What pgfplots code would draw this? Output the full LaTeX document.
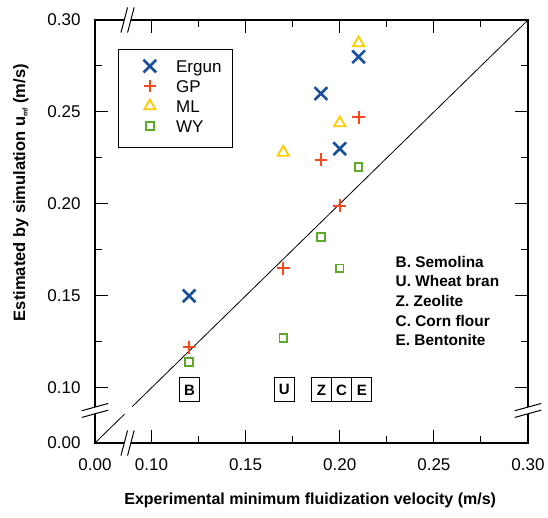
\documentclass[border=0pt]{standalone}
\usepackage{fontspec}
\setmainfont{Liberation Sans}
\usepackage{pgfplots}
\pgfplotsset{compat=1.18}
\definecolor{cErgun}{RGB}{26,79,156}
\definecolor{cGP}{RGB}{250,72,30}
\definecolor{cML}{RGB}{255,204,0}
\definecolor{cWY}{RGB}{94,168,42}
\newcommand{\xbreak}[1]{%
  \fill[white] ([shift={(-6.6pt,-12.6pt)}]axis cs:0.0873,#1) -- ([shift={(0pt,-12.6pt)}]axis cs:0.0873,#1) -- ([shift={(6.6pt,12.6pt)}]axis cs:0.0873,#1) -- ([shift={(0pt,12.6pt)}]axis cs:0.0873,#1) -- cycle;
  \draw[line width=1pt] ([shift={(-6.6pt,-12.6pt)}]axis cs:0.0873,#1) -- ([shift={(0pt,12.6pt)}]axis cs:0.0873,#1);
  \draw[line width=1pt] ([shift={(0pt,-12.6pt)}]axis cs:0.0873,#1) -- ([shift={(6.6pt,12.6pt)}]axis cs:0.0873,#1);}
\newcommand{\ybreak}[1]{%
  \fill[white] ([shift={(-13.3pt,-7pt)}]axis cs:#1,0.0877) -- ([shift={(13.3pt,0.3pt)}]axis cs:#1,0.0877) -- ([shift={(13.3pt,7pt)}]axis cs:#1,0.0877) -- ([shift={(-13.3pt,-0.3pt)}]axis cs:#1,0.0877) -- cycle;
  \draw[line width=1pt] ([shift={(-13.3pt,-7pt)}]axis cs:#1,0.0877) -- ([shift={(13.3pt,0.3pt)}]axis cs:#1,0.0877);
  \draw[line width=1pt] ([shift={(-13.3pt,-0.3pt)}]axis cs:#1,0.0877) -- ([shift={(13.3pt,7pt)}]axis cs:#1,0.0877);}
\tikzset{mat/.style={anchor=base west, inner sep=0pt, font=\fontsize{15.4}{15.4}\selectfont\bfseries},
  boxl/.style={draw=black, line width=0.8pt, minimum width=20pt, minimum height=24pt, inner sep=0pt, font=\fontsize{15}{15}\selectfont\bfseries}}
\begin{document}
\begin{tikzpicture}
\begin{axis}[name=ax, scale only axis, width=433pt, height=423pt,
 xmin=0.07, xmax=0.30, ymin=0.07, ymax=0.30, clip=false,
 xtick={0.07,0.10,0.15,0.20,0.25,0.30}, xticklabels={0.00,0.10,0.15,0.20,0.25,0.30},
 ytick={0.07,0.10,0.15,0.20,0.25,0.30}, yticklabels={0.00,0.10,0.15,0.20,0.25,0.30},
 minor xtick={0.125,0.175,0.225,0.275}, minor ytick={0.125,0.175,0.225,0.275},
 tick align=inside, major tick length=13pt, minor tick length=7pt,
 every tick/.style={black, line width=1pt},
 axis line style={line width=1.2pt},
 ticklabel style={font=\fontsize{17}{17}\selectfont},
 xticklabel style={yshift=-12pt}, yticklabel style={xshift=-11pt},
 xlabel={\bfseries Experimental minimum fluidization velocity (m/s)},
 ylabel={\bfseries Estimated by simulation u\raisebox{-2.5pt}{\fontsize{7}{7}\selectfont mf} (m/s)},
 xlabel style={font=\fontsize{16}{16}\selectfont, at={(axis description cs:0.497,-0.135)}, anchor=center},
 ylabel style={font=\fontsize{16.5}{16.5}\selectfont, at={(axis description cs:-0.171,0.592)}, anchor=center},
 legend cell align=left,
 legend image code/.code={\path (-22.7pt,0pt) (21.3pt,0pt); \draw[#1] plot coordinates {(2pt,2.5pt)};},
 legend style={at={(0.053,0.931)}, anchor=north west, draw=black, line width=0.8pt,
   font=\fontsize{17}{17}\selectfont, inner xsep=5.5pt, inner ysep=9pt, row sep=0pt, column sep=0pt,
   nodes={inner ysep=1.5pt, inner xsep=5.7pt, text height=12pt, text depth=5pt}},
]
\addplot[only marks, mark=x, mark size=9pt, cErgun, line width=2.6pt]
  coordinates {(0.12,0.150) (0.19,0.260) (0.20,0.230) (0.21,0.280)};
\addplot[only marks, mark=+, mark size=6.3pt, cGP, line width=2pt]
  coordinates {(0.12,0.122) (0.17,0.165) (0.19,0.224) (0.20,0.199) (0.21,0.247)};
\addplot[only marks, mark=triangle*, mark size=6.5pt, draw=cML, fill=white, line width=1.8pt, mark options={fill=white}]
  coordinates {(0.17,0.228) (0.20,0.244) (0.21,0.2875)};
\addplot[only marks, mark=square*, mark size=3.8pt, draw=cWY, fill=white, line width=1.9pt, mark options={fill=white}]
  coordinates {(0.12,0.114) (0.17,0.127) (0.19,0.182) (0.20,0.165) (0.21,0.220)};
\legend{Ergun,GP,ML,WY}
\addplot[black, line width=0.8pt, forget plot] coordinates {(0.07,0.07) (0.0857,0.0857)};
\addplot[black, line width=0.8pt, forget plot] coordinates {(0.0897,0.0897) (0.30,0.30)};
\xbreak{0.07}
\xbreak{0.30}
\ybreak{0.07}
\ybreak{0.30}
\node[mat] at (axis cs:0.2296,0.1654) {B. Semolina};
\node[mat] at (axis cs:0.2296,0.1550) {U. Wheat bran};
\node[mat] at (axis cs:0.2296,0.1441) {Z. Zeolite};
\node[mat] at (axis cs:0.2296,0.1333) {C. Corn flour};
\node[mat] at (axis cs:0.2296,0.1229) {E. Bentonite};
\node[boxl] at (axis cs:0.1202,0.0989) {B};
\node[boxl] at (axis cs:0.1706,0.0989) {U};
\node[boxl] at (axis cs:0.1903,0.0989) {Z};
\node[boxl] at (axis cs:0.2010,0.0989) {C};
\node[boxl] at (axis cs:0.2117,0.0989) {E};
\end{axis}
\path ([shift={(-95pt,-75pt)}]ax.south west) rectangle ([shift={(20pt,20pt)}]ax.north east);
\end{tikzpicture}
\end{document}
